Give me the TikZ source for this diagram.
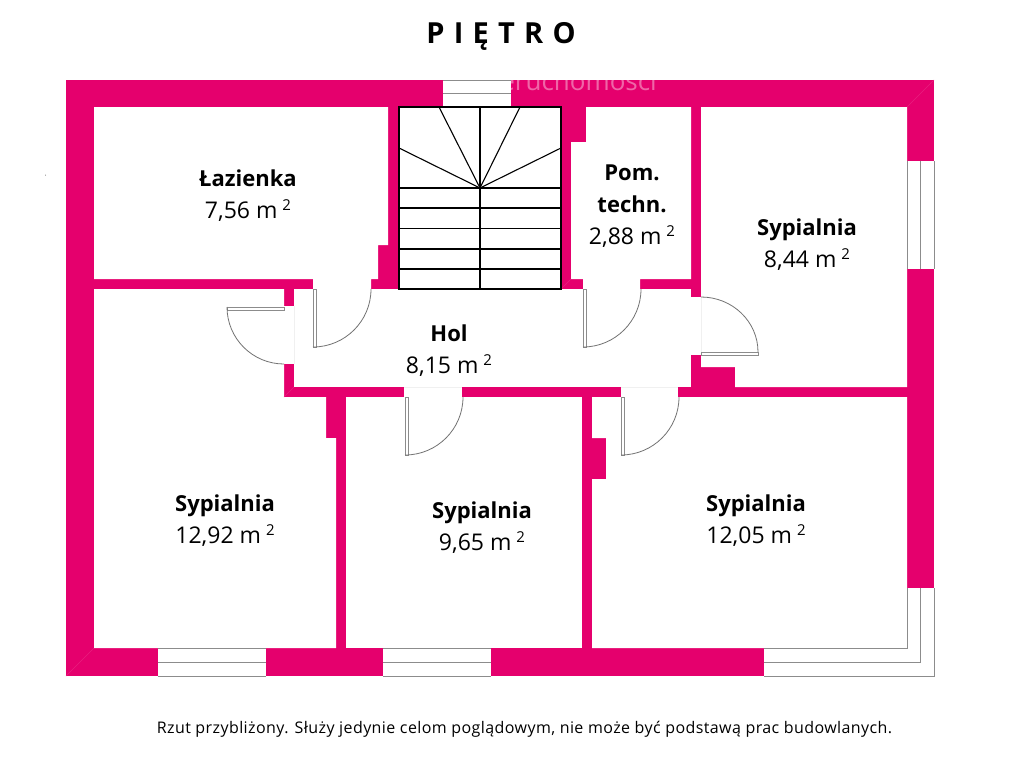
\documentclass[tikz,border=0pt]{standalone}
\usepackage{fontspec}
\setmainfont{Open Sans}
\definecolor{wallpink}{HTML}{E5006D}
\definecolor{framegray}{HTML}{8C8C8C}
\newcommand{\sqm}[1]{{\fontsize{23}{32}\selectfont #1 m\hspace{5pt}\raisebox{8pt}{\fontsize{15}{15}\selectfont 2}}}
\tikzset{
    wall/.style={fill=wallpink},
    room/.style={fill=white},
    frameline/.style={draw=framegray,line width=1pt},
    leaf/.style={draw=framegray,fill=white,line width=.9pt},
    swing/.style={draw=black!55,line width=.8pt},
    stairline/.style={draw=black,line width=1.1pt},
    gapline/.style={draw=black!6,line width=.6pt},
    mitre/.style={draw=wallpink!88!white,line width=.5pt},
    roomlabel/.style={align=center,font=\fontsize{22}{32}\selectfont,inner sep=0pt}
}
\begin{document}
\begin{tikzpicture}[x=1pt,y=-1pt]
    \useasboundingbox (0,0) rectangle (1024,768);
    % walls, the rooms are cut out of them
    \fill[wall] (66,80) rectangle (934,676);
    \fill[room] (94,107) -- (388,107) -- (388,245) -- (378,245) -- (378,279) -- (371,279) -- (371,289) -- (313,289) -- (313,279) -- (94,279) -- cycle;
    \fill[room] (399,107) rectangle (561,289);
    \fill[room] (586,107) -- (691,107) -- (691,279) -- (640,279) -- (640,289) -- (583,289) -- (583,279) -- (571,279) -- (571,142) -- (586,142) -- cycle;
    \fill[room] (701,107) -- (907,107) -- (907,387) -- (735,387) -- (735,367) -- (701,367) -- cycle;
    \fill[room] (294,289) rectangle (691,387);
    \fill[room] (94,289) -- (284,289) -- (284,397) -- (326,397) -- (326,438) -- (336,438) -- (336,648) -- (94,648) -- cycle;
    \fill[room] (346,397) rectangle (582,648);
    \fill[room] (592,397) -- (907,397) -- (907,648) -- (592,648) -- (592,479) -- (606,479) -- (606,438) -- (592,438) -- cycle;
    % door openings
    \fill[room] (284,306) rectangle (294,364);
    \fill[room] (691,297) rectangle (701,355);
    \fill[room] (404,387) rectangle (462,397);
    \fill[room] (621,387) rectangle (678,397);
    \draw[gapline] (294,306) -- (294,364);
    \draw[gapline] (701,297) -- (701,355);
    \draw[gapline] (404,387) -- (462,387);
    \draw[gapline] (621,387) -- (678,387);
    % corners
    \draw[mitre] (66,676) -- (94,648);
    \draw[mitre] (934,80) -- (907,107);
    \draw[mitre] (284,397) -- (294,387);
    \draw[mitre] (561,289) -- (571,279);
    \node[text=white,opacity=.4,inner sep=0pt,anchor=base east] (mark) at (657,90) {\fontsize{26}{26}\selectfont nieruchomosci};
    % windows
    \foreach \wx in {158,383}{
        \fill[room] (\wx,648) rectangle (\wx+108,676);
        \draw[frameline] (\wx,648) -- (\wx+108,648) (\wx,662) -- (\wx+108,662) (\wx,676) -- (\wx+108,676);
    }
    \fill[room] (443,80) rectangle (511,107);
    \draw[frameline] (443,80) -- (511,80) (443,93) -- (511,93);
    \fill[room] (907,161) rectangle (934,269);
    \draw[frameline] (907,161) -- (907,269) (920.5,161) -- (920.5,269) (934,161) -- (934,269);
    \fill[room] (764,648) -- (907,648) -- (907,588) -- (934,588) -- (934,676) -- (764,676) -- cycle;
    \draw[frameline] (907,588) -- (907,648) -- (764,648);
    \draw[frameline] (920.5,588) -- (920.5,662) -- (764,662);
    \draw[frameline] (934,588) -- (934,676) -- (764,676);
    % stairs
    \draw[stairline] (399,107) rectangle (561,289);
    \foreach \sy in {188,208,228.5,249,269}
        \draw[stairline] (399,\sy) -- (561,\sy);
    \draw[stairline] (480,107) -- (480,289);
    \foreach \sx/\sy in {399/148,439/107,520/107,561/148}
        \draw[stairline] (480,188) -- (\sx,\sy);
    % doors
    \foreach \hx/\hy in {313/289,583/289,405/397,621/397}{
        \draw[leaf] (\hx,\hy) rectangle (\hx+3.5,\hy+58);
        \draw[swing] (\hx,\hy+58) arc[start angle=90,end angle=0,radius=58];
    }
    \draw[leaf] (227,307) rectangle (284,310);
    \draw[swing] (227,307) arc[start angle=180,end angle=90,radius=57];
    \draw[leaf] (701,352) rectangle (758,355);
    \draw[swing] (758,352) arc[start angle=0,end angle=-90,x radius=57,y radius=55];
    \fill[black!60] (45.5,175) circle (.5);
    % texts
    \node[font=\fontsize{29}{29}\bfseries\selectfont\addfontfeature{LetterSpace=6},inner sep=0pt] (title) at (501,36) {P I Ę T R O};
    \node[roomlabel] (lazienka) at (248,196) {\textbf{Łazienka}\\\sqm{7,56}};
    \node[roomlabel] (pomtechn) at (632,206) {\textbf{Pom.}\\\textbf{techn.}\\\sqm{2,88}};
    \node[roomlabel] (sypialniaE) at (807,245) {\textbf{Sypialnia}\\\sqm{8,44}};
    \node[roomlabel] (hol) at (449,351) {\textbf{Hol}\\\sqm{8,15}};
    \node[roomlabel] (sypialniaW) at (225,521) {\textbf{Sypialnia}\\\sqm{12,92}};
    \node[roomlabel] (sypialniaS) at (482,528) {\textbf{Sypialnia}\\\sqm{9,65}};
    \node[roomlabel] (sypialniaSE) at (756,521) {\textbf{Sypialnia}\\\sqm{12,05}};
    \node[font=\fontsize{16}{16}\selectfont\addfontfeature{LetterSpace=2.6},inner sep=0pt] (note) at (524.5,729) {Rzut przybliżony. Służy jedynie celom poglądowym, nie może być podstawą prac budowlanych.};
\end{tikzpicture}
\end{document}
